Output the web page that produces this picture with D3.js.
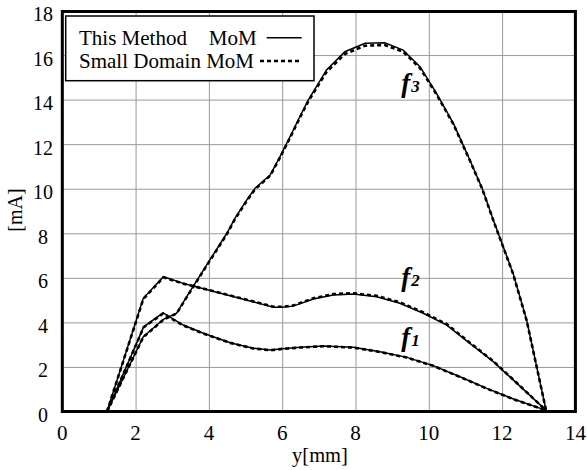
<!DOCTYPE html>
<html>
<head>
<meta charset="utf-8">
<script src="https://cdn.jsdelivr.net/npm/d3@7"></script>
<style>
  html, body { margin: 0; padding: 0; background: #fff; }
  svg { display: block; }
  svg text { font-family: "Liberation Serif", "Times New Roman", Times, serif !important; fill: #000; }
</style>
</head>
<body>
<svg id="chart" width="587" height="470" font-family="Liberation Serif, serif"></svg>
<script>
// ---- data ----
const xTicks = [0, 2, 4, 6, 8, 10, 12, 14];
const yTicks = [0, 2, 4, 6, 8, 10, 12, 14, 16, 18];

const f1X = [1.22, 2.22, 2.75, 3.3, 3.85, 4.58, 5.21, 5.67, 6.0, 6.49, 7.12, 7.94, 8.67, 9.4, 10.12, 10.85, 11.58, 12.31, 13.2];
const f1Y = [0, 3.8, 4.43, 3.88, 3.51, 3.09, 2.84, 2.76, 2.82, 2.88, 2.94, 2.88, 2.68, 2.43, 2.06, 1.56, 1.04, 0.56, 0.05];
const f1dY = [0, 3.78, 4.4, 3.86, 3.5, 3.08, 2.83, 2.75, 2.81, 2.87, 2.93, 2.87, 2.67, 2.42, 2.05, 1.55, 1.03, 0.55, 0.05];

const f2X = [1.22, 2.21, 2.76, 3.3, 3.57, 4.5, 5.2, 5.76, 6.0, 6.3, 6.85, 7.39, 7.94, 8.58, 9.21, 9.85, 10.49, 11.12, 11.76, 12.31, 13.2];
const f2Y = [0, 5.08, 6.05, 5.75, 5.63, 5.23, 4.93, 4.68, 4.68, 4.73, 5.05, 5.23, 5.27, 5.15, 4.86, 4.41, 3.88, 3.06, 2.24, 1.41, 0.05];
const f2dY = [0, 5.05, 6.02, 5.74, 5.63, 5.24, 4.95, 4.7, 4.7, 4.76, 5.08, 5.27, 5.31, 5.19, 4.9, 4.45, 3.92, 3.09, 2.26, 1.42, 0.05];

const f3X = [1.22, 2.21, 2.76, 3.12, 3.39, 3.94, 4.49, 4.71, 5.03, 5.26, 5.67, 5.94, 6.26, 6.48, 6.71, 7.21, 7.71, 8.26, 8.8, 9.3, 9.76, 10.21, 10.67, 11.12, 11.46, 11.76, 12.3, 12.67, 13.2];
const f3Y = [0, 3.36, 4.14, 4.41, 5.15, 6.58, 8.0, 8.67, 9.49, 10.02, 10.61, 11.44, 12.49, 13.23, 13.98, 15.33, 16.15, 16.53, 16.55, 16.22, 15.48, 14.28, 12.93, 11.29, 10.0, 8.6, 6.2, 4.1, 0.05];
const f3dY = [0, 3.34, 4.12, 4.4, 5.12, 6.55, 7.96, 8.63, 9.45, 9.98, 10.58, 11.4, 12.44, 13.18, 13.92, 15.24, 16.05, 16.42, 16.45, 16.15, 15.42, 14.24, 12.9, 11.27, 9.98, 8.58, 6.18, 4.08, 0.05];

const seriesLabels = ["f1", "f2", "f3"];
const labelSubs = ["1", "2", "3"];
const labelPos = [[9.25, 2.95], [9.25, 5.62], [9.25, 14.35]];
const legendEntries = ["This Method", "MoM", "Small Domain MoM"];

// ---- layout ----
const FONT = "Liberation Serif, Times New Roman, serif";
const svg = d3.select("#chart");
const L = 62.3, R = 575.4, T = 10.5, B = 411.5;
const x = d3.scaleLinear().domain([0, 14]).range([L, R]);
const y = d3.scaleLinear().domain([0, 18]).range([B, T]);

// grid
svg.append("g").attr("transform", `translate(0,${B})`)
  .call(d3.axisBottom(x).tickValues(xTicks).tickSize(-(B - T)).tickFormat(""))
  .call(g => g.select(".domain").remove())
  .call(g => g.selectAll("line").attr("stroke", "#9a9a9a").attr("stroke-width", 1));
svg.append("g").attr("transform", `translate(${L},0)`)
  .call(d3.axisLeft(y).tickValues(yTicks).tickSize(-(R - L)).tickFormat(""))
  .call(g => g.select(".domain").remove())
  .call(g => g.selectAll("line").attr("stroke", "#9a9a9a").attr("stroke-width", 1));

// tick labels
svg.append("g").attr("font-family", FONT).selectAll("text").data(xTicks).join("text")
  .attr("x", d => x(d)).attr("y", 440)
  .attr("text-anchor", "middle").attr("font-size", 21)
  .text(d => d);
svg.append("g").attr("font-family", FONT).selectAll("text").data(yTicks).join("text")
  .attr("x", 43).attr("y", d => y(d) + 10.5)
  .attr("text-anchor", "middle").attr("font-size", 20)
  .text(d => d);

// axis titles
svg.append("text").attr("font-family", FONT).attr("x", 320).attr("y", 462)
  .attr("text-anchor", "middle").attr("font-size", 20.5).text("y[mm]");
svg.append("text").attr("font-family", FONT).attr("transform", "translate(22,210) rotate(-90)")
  .attr("text-anchor", "middle").attr("font-size", 20).text("[mA]");

// lines
const mk = (xs, ys) => xs.map((v, i) => [v, ys[i]]);
const line = d3.line().x(d => x(d[0])).y(d => y(d[1]));
const solid = [mk(f1X, f1Y), mk(f2X, f2Y), mk(f3X, f3Y)];
const dashed = [mk(f1X, f1dY), mk(f2X, f2dY), mk(f3X, f3dY)];

svg.append("g").selectAll("path").data(dashed).join("path")
  .attr("d", line).attr("fill", "none").attr("stroke", "#000")
  .attr("stroke-width", 2.6).attr("stroke-dasharray", "4,3");
svg.append("g").selectAll("path").data(solid).join("path")
  .attr("d", line).attr("fill", "none").attr("stroke", "#000")
  .attr("stroke-width", 1.5);

// series labels
const lab = svg.append("g").attr("font-family", FONT).selectAll("text").data(seriesLabels).join("text")
  .attr("x", (d, i) => x(labelPos[i][0])).attr("y", (d, i) => y(labelPos[i][1]));
lab.append("tspan").attr("font-size", 27).attr("font-weight", "bold").attr("font-style", "italic").text("f");
lab.append("tspan").attr("font-size", 17).attr("font-weight", "bold").attr("font-style", "italic").attr("dx", 1).text((d, i) => labelSubs[i]);

// frame
svg.append("rect").attr("x", L).attr("y", T + 1).attr("width", R - L).attr("height", B - T - 1)
  .attr("fill", "none").attr("stroke", "#000").attr("stroke-width", 3);

// legend
const lg = svg.append("g").attr("font-family", FONT);
lg.append("rect").attr("x", 65.7).attr("y", 16).attr("width", 248.3).attr("height", 64.7)
  .attr("fill", "#fff").attr("stroke", "#000").attr("stroke-width", 1.5);
lg.append("text").attr("x", 79).attr("y", 45).attr("font-size", 21).text(legendEntries[0]);
lg.append("text").attr("x", 256.7).attr("y", 45).attr("font-size", 21).attr("text-anchor", "end").text(legendEntries[1]);
lg.append("text").attr("x", 79).attr("y", 68).attr("font-size", 21).text(legendEntries[2]);
lg.append("line").attr("x1", 266.7).attr("x2", 301.7).attr("y1", 37.7).attr("y2", 37.7)
  .attr("stroke", "#000").attr("stroke-width", 1.5);
lg.append("line").attr("x1", 260).attr("x2", 302).attr("y1", 61).attr("y2", 61)
  .attr("stroke", "#000").attr("stroke-width", 2.6).attr("stroke-dasharray", "4,3");
</script>
</body>
</html>
